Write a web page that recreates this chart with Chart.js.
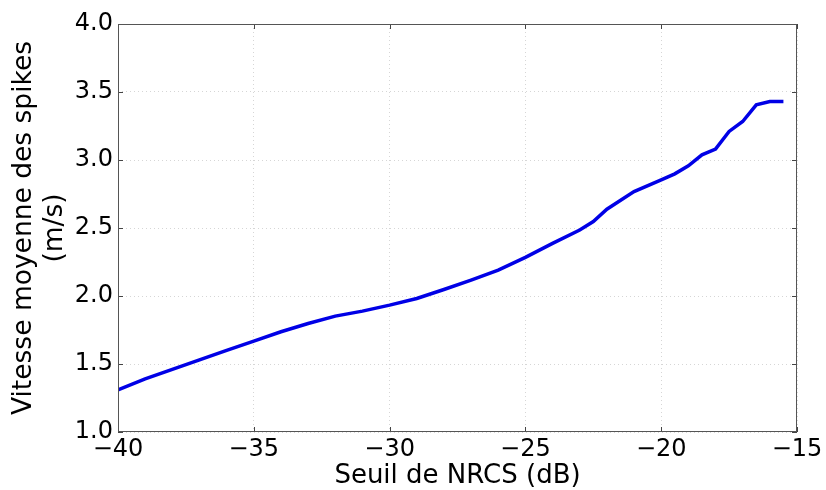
<!DOCTYPE html>
<html>
<head>
<meta charset="utf-8">
<script src="https://cdn.jsdelivr.net/npm/chart.js@4/dist/chart.umd.min.js"></script>
<style>
  html, body { margin: 0; padding: 0; background: #fff; }
  #wrap { width: 826px; height: 490px; }
</style>
</head>
<body>
<div id="wrap"><canvas id="c" width="826" height="490"></canvas></div>
<script>
// NRCS threshold (dB) and mean spike speed (m/s)
const seuilNRCS = [-40, -39, -38, -37, -36, -35, -34, -33, -32, -31, -30, -29, -28, -27, -26, -25, -24, -23, -22.5, -22, -21, -20, -19.5, -19, -18.5, -18, -17.5, -17, -16.5, -16, -15.5];
const vitesseMoyenne = [1.31, 1.39, 1.46, 1.53, 1.60, 1.668, 1.737, 1.798, 1.852, 1.889, 1.933, 1.982, 2.048, 2.117, 2.19, 2.284, 2.387, 2.485, 2.547, 2.638, 2.768, 2.854, 2.898, 2.957, 3.038, 3.08, 3.21, 3.283, 3.406, 3.43, 3.43];
const xTicks = [-40, -35, -30, -25, -20, -15];
const yTicks = [1.0, 1.5, 2.0, 2.5, 3.0, 3.5, 4.0];

const FONT = "'DejaVu Sans', sans-serif";
const fmtMinus = v => String(v).replace('-', '\u2212');

// inward tick marks on all four sides, plus the frame
const innerTicks = {
  id: 'innerTicks',
  afterDatasetsDraw(chart) {
    const { ctx, chartArea: a, scales } = chart;
    ctx.save();
    ctx.strokeStyle = '#444';
    ctx.lineWidth = 1;
    const L = 5;
    ctx.beginPath();
    xTicks.forEach(v => {
      const x = Math.round(scales.x.getPixelForValue(v)) + 0.5;
      ctx.moveTo(x, a.bottom); ctx.lineTo(x, a.bottom - L);
      ctx.moveTo(x, a.top); ctx.lineTo(x, a.top + L);
    });
    yTicks.forEach(v => {
      const y = Math.round(scales.y.getPixelForValue(v)) + 0.5;
      ctx.moveTo(a.left, y); ctx.lineTo(a.left + L, y);
      ctx.moveTo(a.right, y); ctx.lineTo(a.right - L, y);
    });
    ctx.stroke();
    ctx.strokeStyle = '#555';
    ctx.strokeRect(a.left + 0.5, a.top + 0.5, a.right - a.left - 1, a.bottom - a.top - 1);
    ctx.restore();
  }
};

new Chart(document.getElementById('c'), {
  type: 'line',
  data: {
    datasets: [{
      data: seuilNRCS.map((x, i) => ({ x, y: vitesseMoyenne[i] })),
      borderColor: '#0000e6',
      borderWidth: 3.5,
      pointRadius: 0,
      tension: 0,
      fill: false
    }]
  },
  options: {
    responsive: false,
    animation: false,
    events: [],
    layout: { padding: { top: 24, right: 29, left: 0, bottom: 0 } },
    plugins: { legend: { display: false }, tooltip: { enabled: false } },
    scales: {
      x: {
        type: 'linear',
        min: -40, max: -15,
        afterBuildTicks: s => { s.ticks = xTicks.map(v => ({ value: v })); },
        afterFit: s => { s.height = 58; },
        border: { display: false, dash: [1, 3] },
        grid: { color: 'rgba(0,0,0,0.16)', lineWidth: 1, drawTicks: false },
        ticks: {
          color: '#000', padding: 3, maxRotation: 0, autoSkip: false,
          font: { family: FONT, size: 24 },
          callback: v => fmtMinus(v)
        },
        title: {
          display: true, text: 'Seuil de NRCS (dB)', color: '#000',
          font: { family: FONT, size: 26, lineHeight: 1.05 },
          padding: { top: 0, bottom: 0 }
        }
      },
      y: {
        type: 'linear',
        min: 1, max: 4,
        afterBuildTicks: s => { s.ticks = yTicks.map(v => ({ value: v })); },
        afterFit: s => { s.width = 118; },
        border: { display: false, dash: [1, 3] },
        grid: { color: 'rgba(0,0,0,0.16)', lineWidth: 1, drawTicks: false },
        ticks: {
          color: '#000', padding: 5, autoSkip: false,
          font: { family: FONT, size: 24 },
          callback: v => v.toFixed(1)
        },
        title: {
          display: true, text: ['Vitesse moyenne des spikes', '(m/s)'], color: '#000',
          font: { family: FONT, size: 26.5, lineHeight: 1.17 },
          padding: { top: 8.5, bottom: 0 }
        }
      }
    }
  },
  plugins: [innerTicks]
});
</script>
</body>
</html>
